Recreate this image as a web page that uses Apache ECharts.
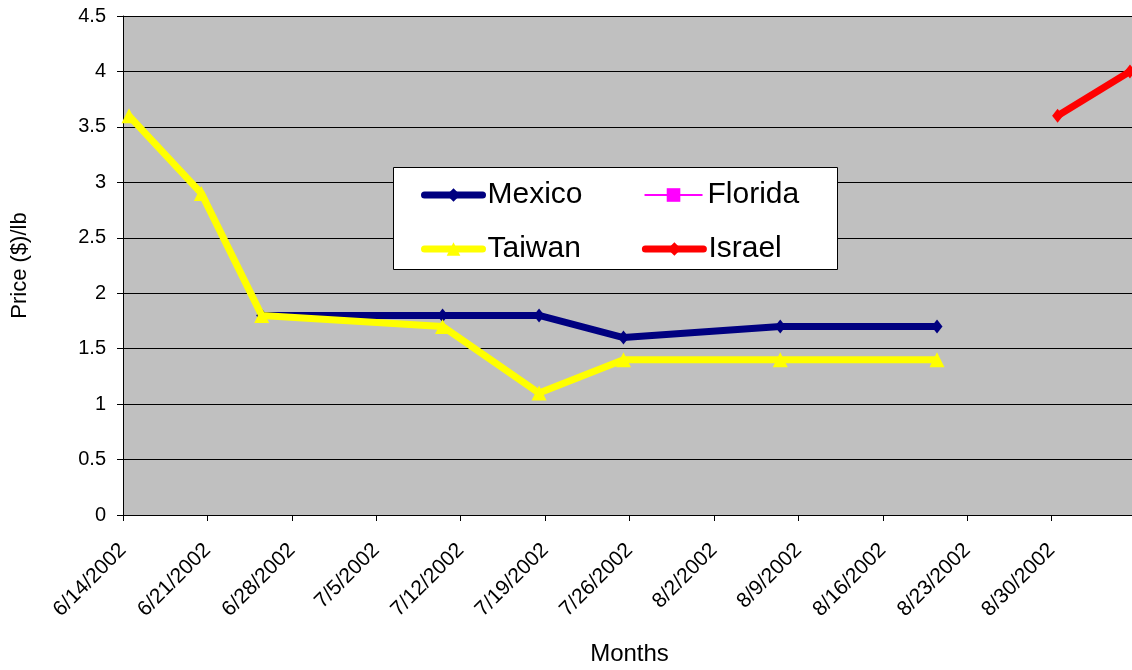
<!DOCTYPE html>
<html>
<head>
<meta charset="utf-8">
<script src="https://cdn.jsdelivr.net/npm/echarts@6/dist/echarts.min.js"></script>
<style>
  html, body { margin: 0; padding: 0; background: #ffffff; }
  #chart { width: 1132px; height: 670px; }
</style>
</head>
<body>
<div id="chart"></div>
<script>
// ---- data ----
var mexicoDates = ['2002-06-25', '2002-07-10', '2002-07-18', '2002-07-25', '2002-08-07', '2002-08-20'];
var mexicoValues = [1.8, 1.8, 1.8, 1.6, 1.7, 1.7];

var taiwanDates = ['2002-06-14', '2002-06-20', '2002-06-25', '2002-07-10', '2002-07-18', '2002-07-25', '2002-08-07', '2002-08-20'];
var taiwanValues = [3.6, 2.9, 1.8, 1.7, 1.1, 1.4, 1.4, 1.4];

var israelDates = ['2002-08-30', '2002-09-05'];
var israelValues = [3.6, 4.0];

var floridaDates = [];
var floridaValues = [];

var axisStartDate = '2002-06-14';
var axisEndDate = '2002-09-06';
var tickDays = 7;
var yTicks = [0, 0.5, 1, 1.5, 2, 2.5, 3, 3.5, 4, 4.5];

// ---- helpers ----
var DAY = 86400000;
function ts(s) {
  var p = s.split('-');
  return Date.UTC(+p[0], +p[1] - 1, +p[2]);
}
// Points sit in the middle of their day slot
function pairs(dates, values) {
  return dates.map(function (d, i) { return [ts(d) + DAY / 2, values[i]]; });
}
function fmtDate(v) {
  var d = new Date(v);
  return (d.getUTCMonth() + 1) + '/' + d.getUTCDate() + '/' + d.getUTCFullYear();
}

var FONT = '"Liberation Sans", Arial, sans-serif';
var chart = echarts.init(document.getElementById('chart'), null, { renderer: 'canvas' });

var legendText = { fontSize: 30, color: '#000', fontFamily: FONT, lineHeight: 30 };

chart.setOption({
  animation: false,
  backgroundColor: '#ffffff',
  grid: {
    left: 123, top: 16, width: 1013, height: 499,
    outerBoundsMode: 'none', containLabel: false,
    show: true, backgroundColor: '#C0C0C0', borderWidth: 0
  },
  graphic: [{
    type: 'rect',
    z: 50,
    shape: { x: 393.5, y: 167.5, width: 444, height: 102 },
    style: { fill: '#ffffff', stroke: '#000000', lineWidth: 1 }
  }],
  legend: [
    {
      z: 60,
      left: 416, top: 175,
      itemWidth: 58, itemHeight: 17, itemGap: 61,
      textStyle: legendText,
      data: [
        { name: 'Mexico', lineStyle: { width: 7, cap: 'round' } },
        { name: 'Florida', lineStyle: { width: 2 } }
      ]
    },
    {
      z: 60,
      left: 416, top: 229,
      itemWidth: 58, itemHeight: 17, itemGap: 61,
      textStyle: legendText,
      data: [
        { name: 'Taiwan', lineStyle: { width: 7, cap: 'round' } },
        { name: 'Israel', lineStyle: { width: 7, cap: 'round' } }
      ]
    }
  ],
  xAxis: {
    type: 'value',
    min: ts(axisStartDate),
    max: ts(axisEndDate),
    interval: tickDays * DAY,
    name: 'Months',
    nameLocation: 'middle',
    nameGap: 127,
    nameTextStyle: { fontSize: 24, color: '#000', fontFamily: FONT },
    axisLine: { show: true, onZero: false, lineStyle: { color: '#000', width: 1 } },
    axisTick: { show: true, length: 6, lineStyle: { color: '#000' } },
    splitLine: { show: false },
    axisLabel: {
      rotate: 45,
      margin: 32,
      showMaxLabel: false,
      fontSize: 21,
      color: '#000',
      fontFamily: FONT,
      formatter: fmtDate
    }
  },
  yAxis: {
    type: 'value',
    min: yTicks[0],
    max: yTicks[yTicks.length - 1],
    interval: yTicks[1] - yTicks[0],
    name: 'Price ($)/lb',
    nameLocation: 'middle',
    nameGap: 92,
    nameRotate: 90,
    nameTextStyle: { fontSize: 22, color: '#000', fontFamily: FONT },
    axisLine: { show: true, lineStyle: { color: '#000', width: 1 } },
    axisTick: { show: true, length: 6, lineStyle: { color: '#000' } },
    splitLine: { show: true, lineStyle: { color: '#000', width: 1 } },
    axisLabel: { fontSize: 20, color: '#000', fontFamily: FONT, margin: 17 }
  },
  series: [
    {
      name: 'Mexico', type: 'line',
      data: pairs(mexicoDates, mexicoValues),
      symbol: 'diamond', symbolSize: [11, 14], showAllSymbol: true,
      itemStyle: { color: '#000080' },
      lineStyle: { color: '#000080', width: 7 },
      z: 3
    },
    {
      name: 'Florida', type: 'line',
      data: pairs(floridaDates, floridaValues),
      symbol: 'rect', symbolSize: 11,
      itemStyle: { color: '#FF00FF' },
      lineStyle: { color: '#FF00FF', width: 2 },
      z: 3
    },
    {
      name: 'Taiwan', type: 'line',
      data: pairs(taiwanDates, taiwanValues),
      symbol: 'triangle', symbolSize: 15, showAllSymbol: true,
      itemStyle: { color: '#FFFF00' },
      lineStyle: { color: '#FFFF00', width: 7 },
      z: 4
    },
    {
      name: 'Israel', type: 'line',
      data: pairs(israelDates, israelValues),
      symbol: 'diamond', symbolSize: [11, 14], showAllSymbol: true,
      itemStyle: { color: '#FF0000' },
      lineStyle: { color: '#FF0000', width: 7 },
      z: 4
    }
  ]
});
</script>
</body>
</html>
